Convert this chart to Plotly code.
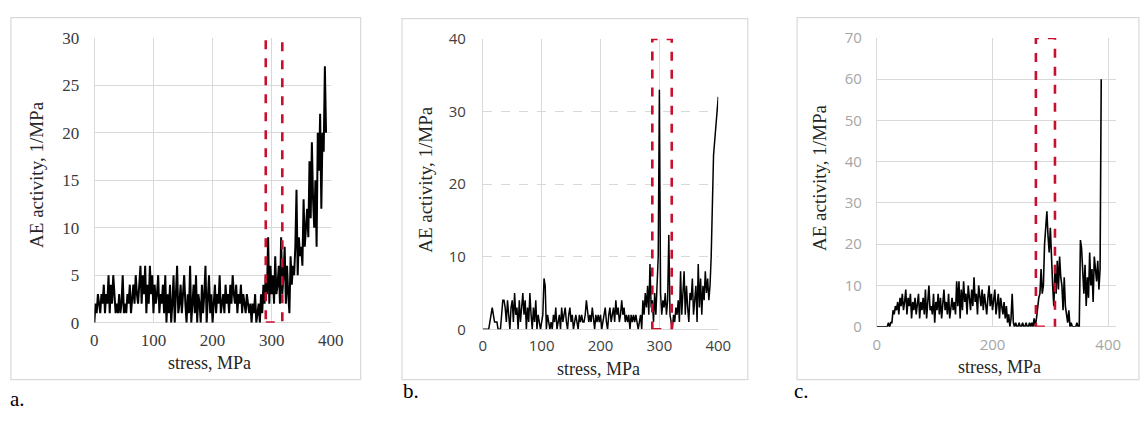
import plotly.graph_objects as go

W, H = 1147, 421

# ---------------- data ----------------
stress_a = list(range(0, 394, 2))
activity_a = [
    0, 2, 1, 3, 2, 1, 3, 2, 4, 1, 3,
    2, 5, 1, 4, 2, 5, 3, 1, 2, 1,
    3, 1, 2, 5, 1, 2, 1, 3, 2, 4,
    1, 3, 4, 2, 5, 3, 2, 4, 6, 2,
    5, 3, 6, 1, 4, 2, 6, 3, 5, 1,
    4, 2, 3, 5, 1, 3, 2, 4, 1, 5,
    0, 3, 1, 4, 0, 2, 5, 0, 3, 6,
    1, 2, 4, 1, 3, 5, 2, 0, 3, 1,
    6, 0, 2, 4, 1, 5, 0, 3, 2, 0,
    4, 1, 3, 6, 0, 2, 5, 1, 3, 0,
    2, 4, 1, 3, 2, 5, 1, 2, 3, 1,
    4, 2, 3, 1, 4, 2, 5, 3, 2, 4,
    1, 3, 2, 4, 1, 3, 2, 1, 3, 2,
    1, 2, 0, 2, 1, 3, 0, 1, 2, 0,
    3, 1, 4, 2, 5, 3, 9, 2, 6, 3,
    5, 2, 7, 3, 4, 6, 2, 9, 3, 5,
    8, 2, 6, 3, 1, 7, 4, 6, 5, 8,
    14, 5, 9, 7, 8, 6, 13, 8, 10, 12,
    9, 17, 11, 19, 13, 10, 15, 8, 20, 16,
    22, 12, 20, 18, 27, 20,
]

stress_b = list(range(0, 402, 2))
activity_b = [
    0, 0, 0, 0, 0, 0, 1, 2, 3, 2,
    1, 1, 1, 0, 0, 0, 2, 4, 4, 3,
    1, 4, 2, 0, 3, 4, 1, 5, 2, 3,
    0, 4, 1, 3, 5, 2, 4, 0, 3, 1,
    5, 2, 0, 3, 1, 4, 0, 2, 1, 0,
    1, 2, 7, 6, 0, 2, 1, 0, 1, 0,
    2, 1, 3, 0, 1, 2, 0, 3, 1, 2,
    3, 1, 0, 2, 3, 1, 2, 0, 1, 2,
    1, 0, 2, 1, 2, 1, 1, 2, 4, 2,
    1, 2, 1, 3, 1, 0, 2, 1, 2, 1,
    2, 0, 1, 2, 3, 1, 0, 2, 3, 1,
    2, 3, 1, 4, 2, 3, 1, 2, 4, 2,
    3, 1, 2, 1, 2, 0, 2, 1, 2, 1,
    2, 1, 0, 1, 2, 0, 4, 2, 5, 3,
    6, 2, 9, 3, 4, 1, 5, 2, 6, 10,
    33, 5, 2, 4, 3, 5, 2, 4, 13, 2,
    1, 0, 2, 1, 3, 2, 4, 1, 8, 2,
    5, 8, 2, 6, 3, 1, 5, 4, 7, 2,
    4, 6, 1, 9, 3, 7, 2, 6, 4, 8,
    5, 7, 4, 6, 10, 16, 24, 26, 28, 30,
    32,
]

stress_c = list(range(0, 390, 2))
activity_c = [
    0, 0, 0, 0, 0, 0, 0, 0, 0, 0,
    1, 0, 1, 1, 4, 3, 5, 4, 6, 3,
    7, 5, 8, 4, 6, 9, 3, 7, 5, 8,
    2, 6, 4, 7, 3, 5, 8, 2, 6, 4,
    7, 3, 9, 2, 6, 10, 4, 5, 3, 8,
    1, 6, 4, 8, 3, 7, 2, 5, 9, 4,
    6, 3, 8, 2, 5, 7, 4, 6, 3, 11,
    5, 11, 2, 9, 4, 11, 6, 8, 3, 10,
    7, 4, 9, 5, 12, 6, 8, 3, 10, 7,
    5, 9, 4, 8, 6, 3, 7, 10, 5, 8,
    4, 7, 9, 3, 6, 8, 2, 7, 5, 3,
    6, 2, 5, 1, 3, 0, 2, 8, 1, 0,
    1, 0, 0, 1, 0, 0, 1, 0, 0, 1,
    0, 0, 1, 0, 1, 0, 2, 0, 2, 5,
    7, 8, 14, 8, 10, 20, 24, 28, 22, 18,
    24, 15, 10, 5, 14, 8, 16, 9, 17, 12,
    10, 4, 12, 5, 3, 1, 4, 0, 1, 0,
    0, 0, 0, 1, 0, 0, 21, 19, 12, 8,
    15, 5, 12, 7, 18, 10, 14, 6, 17, 13,
    11, 16, 9, 14, 60,
]

# highlighted stress windows (red dashed boxes)
window_a = [290, 318]
window_b = [288, 321]
window_c = [275, 308]

x_title = "stress, MPa"
y_title = "AE activity, 1/MPa"
panel_labels = ["a.", "b.", "c."]

# ---------------- layout helpers ----------------
def xd(p0, p1):
    return [p0 / W, p1 / W]

def yd(top, bottom):
    return [1 - bottom / H, 1 - top / H]

fig = go.Figure()

fig.add_trace(go.Scatter(x=stress_a, y=activity_a, mode="lines",
                         line=dict(color="black", width=2.0),
                         xaxis="x", yaxis="y", showlegend=False))
fig.add_trace(go.Scatter(x=stress_b, y=activity_b, mode="lines",
                         line=dict(color="black", width=1.5),
                         xaxis="x2", yaxis="y2", showlegend=False))
fig.add_trace(go.Scatter(x=stress_c, y=activity_c, mode="lines",
                         line=dict(color="black", width=1.6),
                         xaxis="x3", yaxis="y3", showlegend=False))

grid = "#d9d9d9"
sans = "Open Sans, Liberation Sans, sans-serif"
serif = "Liberation Serif, DejaVu Serif, serif"

def xaxis(domain, anchor, rng, dtick, font, standoff=6):
    return dict(domain=domain, anchor=anchor, range=rng, dtick=dtick, tick0=0,
                showgrid=True, gridcolor=grid, gridwidth=1,
                zeroline=True, zerolinecolor=grid, zerolinewidth=1,
                showline=False, ticks="", ticklabelstandoff=standoff,
                tickfont=font, fixedrange=True)

def yaxis(domain, anchor, rng, dtick, font, dash="solid", standoff=12):
    return dict(domain=domain, anchor=anchor, range=rng, dtick=dtick, tick0=0,
                showgrid=True, gridcolor=grid, gridwidth=1, griddash=dash,
                zeroline=True, zerolinecolor=grid, zerolinewidth=1,
                showline=False, ticks="", ticklabelstandoff=standoff,
                tickfont=font, fixedrange=True)

font_a = dict(family=serif, size=17, color="#3a3a3a")
font_b = dict(family=sans, size=15, color="#404040")
font_c = dict(family=sans, size=15, color="#a6a6a6")

fig.update_layout(
    width=W, height=H,
    margin=dict(l=0, r=0, t=0, b=0),
    paper_bgcolor="white", plot_bgcolor="white",
    xaxis=xaxis(xd(91.7, 331.7), "y", [0, 400], 100, font_a, 5),
    yaxis=yaxis(yd(28.3, 328), "x", [0, 30], 5, font_a, "solid", 14),
    xaxis2=xaxis(xd(486, 725), "y2", [0, 400], 100, font_b, 6),
    yaxis2=yaxis(yd(29.3, 335), "x2", [0, 40], 10, font_b, "dash", 16),
    xaxis3=xaxis(xd(886, 1129), "y3", [0, 414], 200, font_c, 7),
    yaxis3=yaxis(yd(28.3, 332.3), "x3", [0, 70], 10, font_c, "solid", 14),
)

shapes = []
# panel frames
for (x0, y0, x1, y1) in [(7, 7, 362, 388), (404, 8, 755, 388), (805, 7, 1152, 388)]:
    shapes.append(dict(type="rect", xref="paper", yref="paper",
                       x0=x0 / W, x1=x1 / W, y0=1 - y1 / H, y1=1 - y0 / H,
                       line=dict(color="#d9d9d9", width=1.2), fillcolor="rgba(0,0,0,0)",
                       layer="below"))
# red dashed windows
for (xr, yr, win, top) in [("x", "y", window_a, 30.2), ("x2", "y2", window_b, 40),
                           ("x3", "y3", window_c, 70)]:
    shapes.append(dict(type="rect", xref=xr, yref=yr, x0=win[0], x1=win[1], y0=0, y1=top,
                       line=dict(color="#c8102e", width=2.6, dash="dash"),
                       fillcolor="rgba(0,0,0,0)", layer="above"))
fig.update_layout(shapes=shapes)

ann = []
# y titles
for (x, y) in [(33, 172), (427, 177), (828, 175)]:
    ann.append(dict(text=y_title, x=x / W, y=1 - y / H, xref="paper", yref="paper",
                    showarrow=False, textangle=-90, xanchor="center", yanchor="middle",
                    font=dict(family=serif, size=19, color="#262626")))
# x titles
for (x, y) in [(209, 370), (603, 377), (1010, 375)]:
    ann.append(dict(text=x_title, x=x / W, y=1 - y / H, xref="paper", yref="paper",
                    showarrow=False, xanchor="center", yanchor="middle",
                    font=dict(family=serif, size=18, color="#262626")))
# panel labels
for lab, (x, y) in zip(panel_labels, [(4, 408), (403, 400), (800, 400)]):
    ann.append(dict(text=lab, x=x / W, y=1 - y / H, xref="paper", yref="paper",
                    showarrow=False, xanchor="left", yanchor="middle",
                    font=dict(family=serif, size=21, color="black")))
fig.update_layout(annotations=ann)

fig.write_html("out.html")
